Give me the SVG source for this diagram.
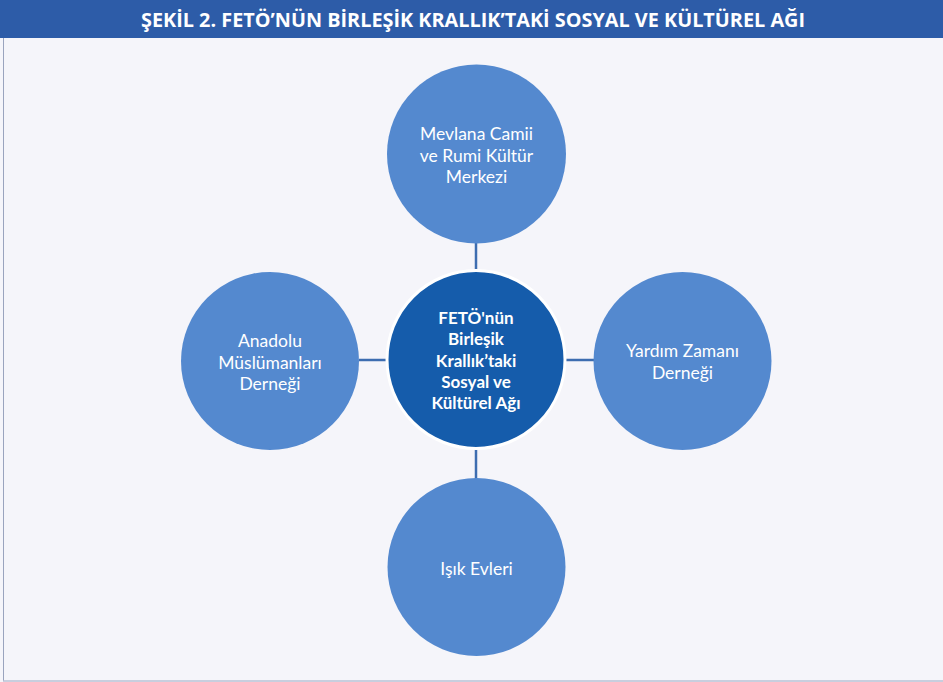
<svg xmlns="http://www.w3.org/2000/svg" width="943" height="682" viewBox="0 0 943 682">
<style>
.node{fill:#5489CF;}
.center{fill:#155CAB;stroke:#FFFFFF;stroke-width:3;}
.lbl{font-family:Lato,"Open Sans",sans-serif;font-size:17.5px;fill:#FFFFFF;text-anchor:middle;}
.clbl{font-family:Lato,"Open Sans",sans-serif;font-size:17px;font-weight:bold;fill:#FFFFFF;text-anchor:middle;}
.conn{stroke:#3D6DB0;stroke-width:2.5;fill:none;}
</style>
<rect x="0" y="0" width="943" height="682" fill="#F5F5FA"/>
<line x1="3.5" y1="38" x2="3.5" y2="681" stroke="#9AA4BE" stroke-width="1"/>
<line x1="3" y1="681" x2="943" y2="681" stroke="#B8C0D4" stroke-width="1.5"/>
<g id="header">
<rect x="0" y="0" width="943" height="38" fill="#2D5CA8"/>
<text x="473" y="27" font-family="'Open Sans','Noto Sans',sans-serif" font-size="19.5" font-weight="bold" fill="#FFFFFF" text-anchor="middle" textLength="664" lengthAdjust="spacingAndGlyphs">ŞEKİL 2. FETÖ’NÜN BİRLEŞİK KRALLIK’TAKİ SOSYAL VE KÜLTÜREL AĞI</text>
</g>
<g id="connectors">
<line class="conn" x1="476" y1="243" x2="476" y2="272"/>
<line class="conn" x1="359" y1="360" x2="388" y2="360"/>
<line class="conn" x1="565" y1="360" x2="594" y2="360"/>
<line class="conn" x1="476" y1="448" x2="476" y2="479"/>
</g>
<g id="node-top">
<circle class="node" cx="476.5" cy="154" r="89.5"/>
<text class="lbl" x="476.5" y="140">Mevlana Camii</text>
<text class="lbl" x="476.5" y="161.5">ve Rumi Kültür</text>
<text class="lbl" x="476.5" y="183">Merkezi</text>
</g>
<g id="node-left">
<circle class="node" cx="270" cy="361" r="89"/>
<text class="lbl" x="270" y="347">Anadolu</text>
<text class="lbl" x="270" y="368.5">Müslümanları</text>
<text class="lbl" x="270" y="390">Derneği</text>
</g>
<g id="node-right">
<circle class="node" cx="682.5" cy="361" r="89"/>
<text class="lbl" x="682.5" y="357">Yardım Zamanı</text>
<text class="lbl" x="682.5" y="378.5">Derneği</text>
</g>
<g id="node-bottom">
<circle class="node" cx="476.5" cy="567" r="89"/>
<text class="lbl" x="476.5" y="575">Işık Evleri</text>
</g>
<g id="node-center">
<circle class="center" cx="476" cy="359.5" r="89"/>
<text class="clbl" x="476" y="324">FETÖ'nün</text>
<text class="clbl" x="476" y="345">Birleşik</text>
<text class="clbl" x="476" y="367">Krallık’taki</text>
<text class="clbl" x="476" y="388">Sosyal ve</text>
<text class="clbl" x="476" y="409">Kültürel Ağı</text>
</g>
</svg>
